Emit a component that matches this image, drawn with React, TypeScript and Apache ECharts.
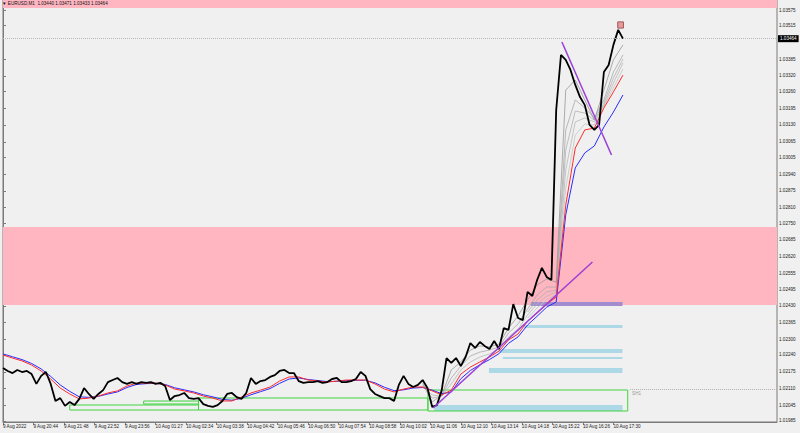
import { useEffect, useRef } from "react";
import * as echarts from "echarts";

// bars per sample
const PRICE_STEP = 10;
const MA_STEP = 20;
const FAN_START = 880;
const FAN2_START = 1100;
const X_MAX = 1623;
const Y_MIN = 1.019806;
const Y_MAX = 1.036137;

// closing price, one value every 10 one-minute bars
const price = [
  1.0219, 1.02178, 1.0217, 1.02182, 1.02174, 1.02178, 1.02166, 1.02128, 1.02159, 1.02174,
  1.02128, 1.02062, 1.02073, 1.02043, 1.02058, 1.02046, 1.0207, 1.02112, 1.02089, 1.0207,
  1.02089, 1.02104, 1.02135, 1.02143, 1.02151, 1.02135, 1.02128, 1.02135, 1.02128, 1.02135,
  1.02132, 1.02135, 1.02128, 1.02132, 1.0212, 1.02066, 1.02081, 1.02085, 1.02093, 1.02073,
  1.0207, 1.02073, 1.0205, 1.02043, 1.02039, 1.02046, 1.02062, 1.02089, 1.02093, 1.02077,
  1.0207, 1.02093, 1.02151, 1.02128, 1.02139, 1.02143, 1.02155, 1.02162, 1.02178, 1.02182,
  1.0217, 1.0217, 1.02139, 1.02132, 1.02135, 1.02135, 1.02139, 1.02132, 1.02135, 1.02147,
  1.02151, 1.02135, 1.02135, 1.02139, 1.02147, 1.02174, 1.02159, 1.02108, 1.02089, 1.02081,
  1.02073, 1.02073, 1.02062, 1.02124, 1.02159, 1.02128, 1.02116, 1.02124, 1.02143, 1.02112,
  1.02039, 1.02046, 1.02104, 1.02228, 1.02209, 1.02228, 1.02197, 1.02232, 1.02286, 1.02267,
  1.0229, 1.02275, 1.02263, 1.02294, 1.02263, 1.02344, 1.02337, 1.02437, 1.02383, 1.02375,
  1.02484, 1.02468, 1.0253, 1.02577, 1.02542, 1.0253, 1.03188, 1.03401, 1.03382, 1.03343,
  1.03285, 1.03238, 1.03207, 1.0313, 1.03111, 1.0313, 1.03335, 1.03362, 1.0344, 1.03498,
  1.03464,
];

// slow moving averages, one value every 20 bars
const maRed = [
  1.0224, 1.02228, 1.02217, 1.02201, 1.02178, 1.02147, 1.02112, 1.02089, 1.0207, 1.02073,
  1.02081, 1.02093, 1.02101, 1.0212, 1.02131, 1.02131, 1.02131, 1.02124, 1.02108, 1.02101,
  1.02093, 1.02081, 1.02073, 1.02062, 1.02062, 1.02077, 1.02093, 1.02104, 1.02116, 1.02139,
  1.02155, 1.02155, 1.02143, 1.02139, 1.02135, 1.02139, 1.02143, 1.02143, 1.02143, 1.02128,
  1.02108, 1.02097, 1.02108, 1.02116, 1.02116, 1.02101, 1.02085, 1.02104, 1.02166, 1.02193,
  1.02213, 1.02232, 1.02255, 1.02298, 1.02321, 1.02371, 1.02402, 1.02437, 1.02464, 1.0282,
  1.03041, 1.03111, 1.03118, 1.03196, 1.03258, 1.03323,
];
const maBlue = [
  1.02244, 1.02233, 1.02222, 1.02207, 1.02186, 1.02157, 1.02124, 1.02099, 1.02078, 1.02076,
  1.0208, 1.02089, 1.02097, 1.02114, 1.02126, 1.02129, 1.0213, 1.02126, 1.02113, 1.02105,
  1.02097, 1.02086, 1.02078, 1.02068, 1.02065, 1.02072, 1.02086, 1.02098, 1.0211, 1.0213,
  1.02147, 1.02151, 1.02145, 1.02141, 1.02137, 1.02138, 1.02141, 1.02142, 1.02142, 1.02132,
  1.02115, 1.02102, 1.02105, 1.02112, 1.02114, 1.02104, 1.0209, 1.02096, 1.02148, 1.0218,
  1.02202, 1.02222, 1.02245, 1.02285, 1.0231, 1.02356, 1.0239, 1.02425, 1.02445, 1.02782,
  1.02964, 1.03022, 1.03049, 1.03122, 1.0318, 1.03246,
];

// faster averages of the fan, from bar 880, every 20 bars
const fanFast = [
  1.02131, 1.02058, 1.02085, 1.02182, 1.02213, 1.02259, 1.02275, 1.02271, 1.02282, 1.02344,
  1.02391, 1.02453, 1.02511, 1.02534, 1.02522, 1.03265, 1.03304, 1.03227, 1.03149, 1.03265,
  1.03382, 1.0344,
];
const fanMid = [
  1.02124, 1.02073, 1.02081, 1.02151, 1.02197, 1.02236, 1.02251, 1.02259, 1.02271, 1.02325,
  1.0236, 1.02418, 1.02472, 1.02503, 1.02503, 1.03111, 1.03227, 1.03196, 1.03157, 1.03227,
  1.03335, 1.03401,
];
const fanSlow = [
  1.0212, 1.02085, 1.02081, 1.02128, 1.02182, 1.02213, 1.02232, 1.02244, 1.02263, 1.0231,
  1.0234, 1.02395, 1.02437, 1.02468, 1.02484, 1.02956, 1.03142, 1.03157, 1.03142, 1.03207,
  1.03292, 1.0337,
];
// two more fan averages in the spike, from bar 1100, every 20 bars
const fanMid2 = [
  1.02406, 1.02453, 1.02484, 1.02491, 1.03033, 1.03184, 1.03176, 1.03149, 1.03215, 1.03312,
  1.03385,
];
const fanSlower = [
  1.02383, 1.02422, 1.02453, 1.02476, 1.02886, 1.03091, 1.03134, 1.0313, 1.03203, 1.03273,
  1.03347,
];

const timeLabels = [
  "9 Aug 2022", "9 Aug 20:44", "9 Aug 21:48", "9 Aug 22:52", "9 Aug 23:56",
  "10 Aug 01:27", "10 Aug 02:34", "10 Aug 03:38", "10 Aug 04:42", "10 Aug 05:46",
  "10 Aug 06:50", "10 Aug 07:54", "10 Aug 08:58", "10 Aug 10:02", "10 Aug 11:06",
  "10 Aug 12:10", "10 Aug 13:14", "10 Aug 14:18", "10 Aug 15:22", "10 Aug 16:26",
  "10 Aug 17:30",
];
const timeTickBars = [0, 64, 128, 192, 256, 320, 384, 448, 512, 576, 640, 704, 768, 832, 896, 960, 1024, 1088, 1152, 1216, 1280];

const priceTicks = [
  1.03575, 1.03515, 1.03385, 1.0332, 1.0326, 1.03195, 1.0313, 1.03065, 1.03005, 1.0294,
  1.02875, 1.0281, 1.0275, 1.02685, 1.0262, 1.02555, 1.02495, 1.0243, 1.02365, 1.023,
  1.0224, 1.02175, 1.0211, 1.02045, 1.01985,
];

// zones: [startBar, endBar, low, high]
const pinkZones = [
  [0, X_MAX, 1.035827, 1.036137],
  [0, X_MAX, 1.024334, 1.027352],
];
const blueZones = [
  [1092, 1299, 1.023444, 1.02356],
  [1040, 1299, 1.022476, 1.022631],
  [1048, 1299, 1.022244, 1.022321],
  [1019, 1299, 1.021702, 1.021896],
  [904, 1299, 1.020231, 1.020464],
];
const purpleZones = [[1107, 1299, 1.024295, 1.02445]];
const lastBarZones = [[1289, 1301, 1.03505, 1.03529]];
const greenBoxes = [
  [140, 410, 1.02027, 1.020464],
  [295, 410, 1.020502, 1.020618],
  [410, 891, 1.02027, 1.020735],
  [891, 1310, 1.020231, 1.021044],
];
// trend lines: [bar1, price1, bar2, price2]
const trendLines = [
  [902, 1.02035, 1236, 1.026],
  [1172, 1.03451, 1276, 1.03014],
];
const lastPrice = 1.03464;
const shLevel = [1315, 1.02108];
const headerText = "▼ EURUSD,M1  1.03440 1.03471 1.03433 1.03464";

const FONT = "Liberation Sans";

function zoneItems(zones: number[][], fill: string, border?: string) {
  return zones.map((z) => [
    {
      xAxis: z[0],
      yAxis: z[2],
      itemStyle: { color: fill, borderColor: border || "transparent", borderWidth: border ? 1 : 0 },
    },
    { xAxis: z[1], yAxis: z[3] },
  ]);
}

export default function App() {
  const ref = useRef<HTMLDivElement>(null);
  useEffect(() => {
    if (!ref.current) return;
    const chart = echarts.init(ref.current, undefined, { renderer: "svg" });
    const priceData = price.map((v, i) => [i * PRICE_STEP, v]);
    const redData = maRed.map((v, i) => [i * MA_STEP, v]);
    const blueData = maBlue.map((v, i) => [i * MA_STEP, v]);
    const fanData = (arr: number[], start: number) => arr.map((v, i) => [start + i * MA_STEP, v]);
    const fanLine = (arr: number[], start: number, color: string) => ({
      type: "line",
      data: fanData(arr, start),
      symbol: "none",
      z: 2,
      silent: true,
      lineStyle: { color, width: 0.8 },
    });

    chart.setOption({
      animation: false,
      backgroundColor: "#f0f0f0",
      grid: {
        left: 1,
        right: 23,
        top: 0,
        bottom: 11,
        show: true,
        borderColor: "#7a7a7a",
        borderWidth: 1,
        backgroundColor: "transparent",
      },
      graphic: [
        {
          type: "text",
          left: 2,
          top: 1,
          z: 100,
          style: { text: headerText, fontSize: 4.6, fill: "#111", fontFamily: FONT },
        },
      ],
      xAxis: {
        type: "value",
        min: 0,
        max: X_MAX,
        axisLine: { show: true, lineStyle: { color: "#7a7a7a", width: 1 } },
        axisTick: { show: true, customValues: timeTickBars, length: 3, lineStyle: { color: "#7a7a7a" } },
        axisLabel: {
          customValues: timeTickBars,
          formatter: (v: number) => timeLabels[Math.round(v / 64)] || "",
          align: "left",
          fontSize: 4.6,
          color: "#222",
          margin: 2,
          fontFamily: FONT,
        },
        splitLine: { show: false },
      },
      yAxis: {
        type: "value",
        position: "right",
        min: Y_MIN,
        max: Y_MAX,
        axisLine: { show: true, lineStyle: { color: "#7a7a7a", width: 1 } },
        axisTick: { show: true, customValues: priceTicks, length: 3, lineStyle: { color: "#7a7a7a" } },
        axisLabel: {
          customValues: priceTicks,
          formatter: (v: number) => v.toFixed(5),
          fontSize: 4.6,
          color: "#222",
          margin: 2,
          fontFamily: FONT,
        },
        splitLine: { show: false },
      },
      series: [
        {
          type: "line",
          data: [],
          z: 1,
          silent: true,
          markArea: {
            silent: true,
            data: [
              ...zoneItems(pinkZones, "#ffb6c1"),
              ...zoneItems(blueZones, "#add8e6"),
              ...zoneItems(purpleZones, "#a08ccf"),
              ...zoneItems(lastBarZones, "#e89a9a", "#a05a5a"),
            ],
          },
        },
        fanLine(fanSlower, FAN2_START, "#c4c4c4"),
        fanLine(fanSlow, FAN_START, "#b8b8b8"),
        fanLine(fanMid2, FAN2_START, "#b0b0b0"),
        fanLine(fanMid, FAN_START, "#a8a8a8"),
        fanLine(fanFast, FAN_START, "#989898"),
        {
          type: "line",
          data: blueData,
          symbol: "none",
          z: 3,
          silent: true,
          lineStyle: { color: "#2b2bff", width: 1 },
        },
        {
          type: "line",
          data: redData,
          symbol: "none",
          z: 3,
          silent: true,
          lineStyle: { color: "#ff2b2b", width: 1 },
        },
        {
          type: "line",
          data: priceData,
          symbol: "none",
          z: 4,
          silent: true,
          lineStyle: { color: "#000", width: 1.8 },
        },
        {
          type: "line",
          data: [],
          z: 5,
          silent: true,
          markArea: {
            silent: true,
            data: zoneItems(greenBoxes, "transparent", "#3fd43f"),
          },
          markLine: {
            silent: true,
            precision: 6,
            symbol: ["none", "none"],
            label: { show: false },
            data: [
              ...trendLines.map((t) => [
                { coord: [t[0], t[1]], lineStyle: { color: "#9b3fd6", width: 1.5, type: "solid" } },
                { coord: [t[2], t[3]] },
              ]),
              {
                yAxis: lastPrice,
                lineStyle: { color: "#b8b8b8", width: 1, type: "dotted" },
                label: {
                  show: true,
                  position: "end",
                  distance: 1,
                  formatter: lastPrice.toFixed(5),
                  backgroundColor: "#000",
                  color: "#fff",
                  padding: [1, 2],
                  fontSize: 4.6,
                  fontFamily: FONT,
                },
              },
              [
                {
                  coord: [shLevel[0], shLevel[1]],
                  lineStyle: { color: "#b0b0b0", width: 1, type: "dotted" },
                  label: {
                    show: true,
                    position: "insideStartBottom",
                    formatter: "SH1",
                    fontSize: 4.6,
                    color: "#999",
                    fontFamily: FONT,
                    distance: 2,
                  },
                },
                { coord: [X_MAX, shLevel[1]] },
              ],
            ],
          },
        },
      ],
    });
    return () => chart.dispose();
  }, []);
  return (
    <div
      ref={ref}
      style={{ position: "fixed", left: 0, top: 0, width: 800, height: 433, background: "#f0f0f0" }}
    />
  );
}
